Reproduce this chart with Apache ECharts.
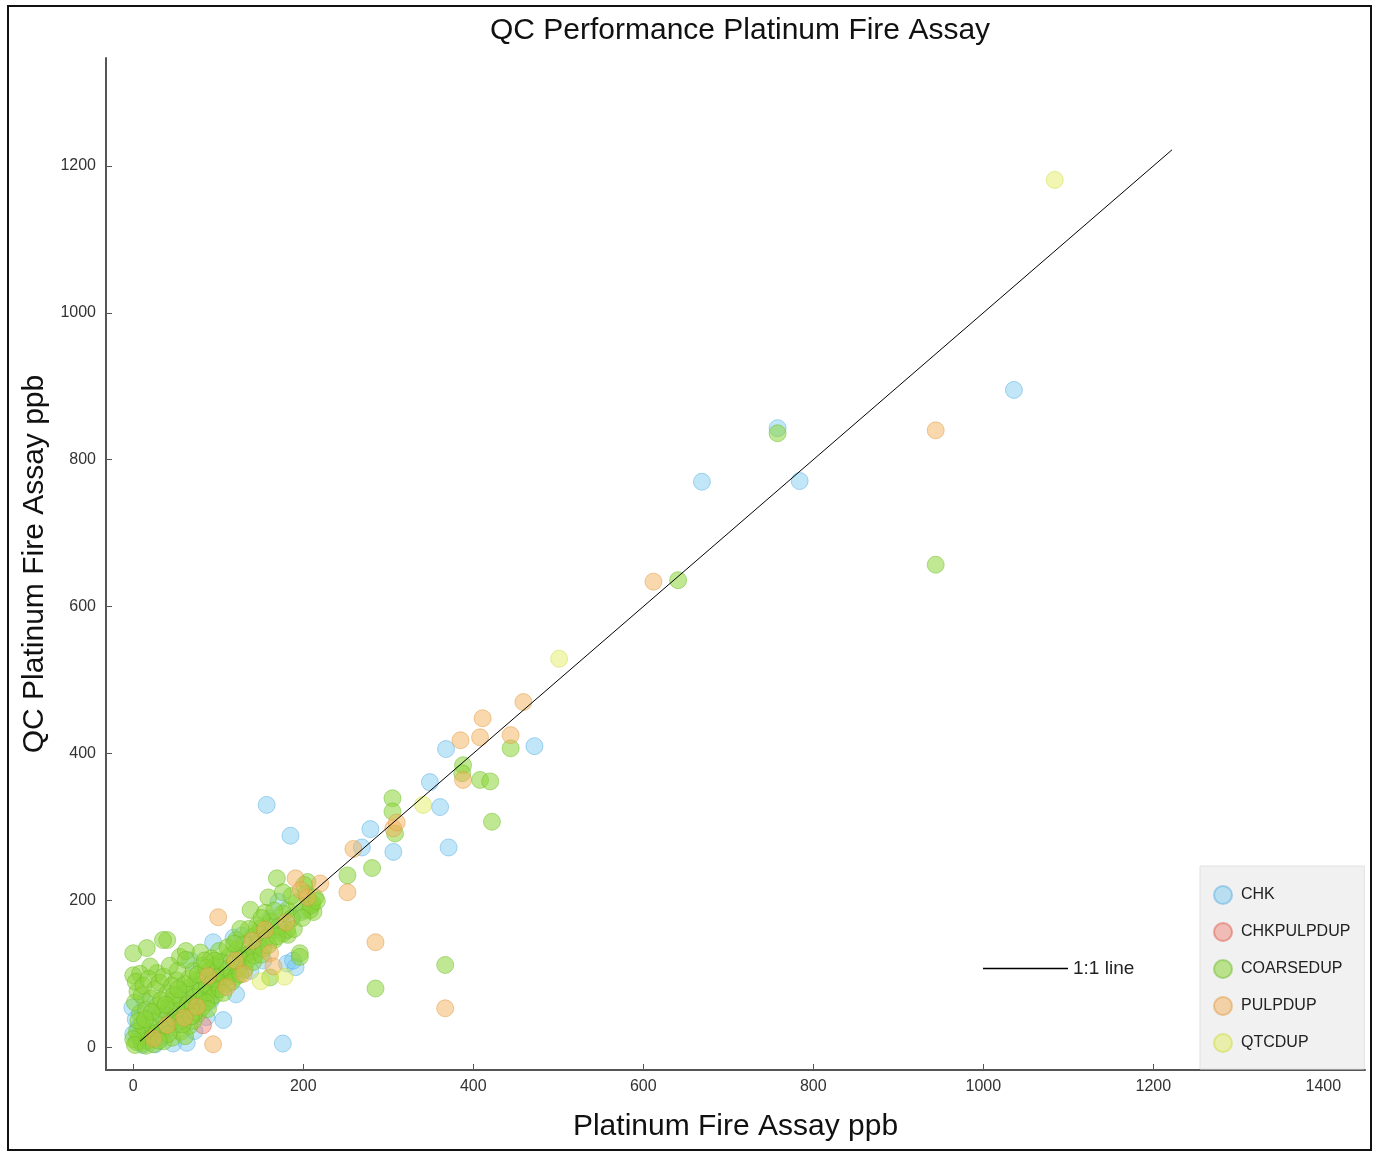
<!DOCTYPE html>
<html>
<head>
<meta charset="utf-8">
<script src="https://cdn.jsdelivr.net/npm/echarts@6/dist/echarts.min.js"></script>
<style>
html,body{margin:0;padding:0;background:#fff;}
#chart{width:1377px;height:1153px;}
</style>
</head>
<body>
<div id="chart"></div>
<script>
const seriesNames = ['CHK', 'CHKPULPDUP', 'COARSEDUP', 'PULPDUP', 'QTCDUP'];
const xTicks = [0, 200, 400, 600, 800, 1000, 1200, 1400];
const yTicks = [0, 200, 400, 600, 800, 1000, 1200];
const oneToOneLine = [[8, 8], [1222, 1222]];

const chkPoints = [
  [1036,895],[758,843],[669,770],[784,771],[472,410],[368,406],[349,361],[361,327],[371,272],
  [306,266],[279,297],[269,272],[157,330],[185,288],[176,5],[118,149],[94,143],[67,118],
  [171,198],[187,176],[153,118],[181,114],[191,109],[188,118],[106,37],[47,5],[63,6],[-1,54],
  [3,38],[18,22],[33,14],[72,22],[86,41],[121,72],[112,96],[141,131],[128,152],[76,84],
  [51,31],[14,62],[6,26],[26,4],[44,52],[91,63],[101,116],[162,176],[146,148],[202,187],
  [58,71],[36,44],[9,9],[138,104],[97,79],[23,41],[168,160],[124,127],[82,64],[41,27],[11,3],[0,18]
];
const chkPulpDupPoints = [
  [82,30],[45,40],[100,95],[20,15],[130,125],[66,60]
];
const coarseDupPoints = [
  [758,836],[944,657],[641,636],[444,407],[388,384],[387,373],[408,364],[420,362],[422,307],
  [305,339],[305,321],[308,291],[281,244],[252,234],[285,80],[367,112],[169,230],[205,225],
  [211,196],[212,184],[159,204],[138,187],[161,163],[182,153],[196,128],[155,183],[181,187],
  [208,187],[176,155],[146,155],[40,146],[79,129],[55,123],[196,123],[161,95],[0,98],[28,101],
  [0,128],[16,135],[35,146],[20,110],[8,100],[62,131],
  [4,7],[7,15],[11,5],[14,22],[17,9],[19,30],[23,14],[25,36],[27,19],[31,45],[34,24],[35,52],
  [39,29],[42,57],[44,33],[47,64],[49,38],[52,49],[55,66],[57,44],[60,75],[62,51],[64,58],
  [67,82],[70,57],[72,69],[74,90],[77,62],[80,77],[82,96],[84,71],[87,84],[90,104],[92,77],
  [95,92],[97,112],[100,86],[103,99],[105,117],[108,93],[111,107],[114,125],[116,101],[119,114],
  [122,133],[124,108],[127,121],[131,141],[134,118],[137,128],[140,150],[143,125],[146,139],
  [150,162],[153,134],[157,149],[162,171],[166,146],[171,164],[176,182],[181,160],[186,175],
  [192,197],[198,184],[203,209],[209,193],[214,204],
  [2,61],[5,76],[3,89],[10,71],[12,84],[18,93],[8,46],[15,51],[21,66],[26,79],[31,88],[36,96],
  [28,56],[40,73],[46,84],[51,91],[10,31],[4,21],[6,36],[0,11],[2,3],[15,2],[24,4],[36,8],
  [46,13],[56,21],[66,29],[41,18],[30,9],[61,15],[71,36],[76,46],[81,54],[56,36],[91,66],
  [96,71],[102,79],[86,61],[111,86],[121,96],[116,89],[61,86],[66,94],[71,104],[81,111],
  [92,121],[76,99],[101,131],[111,136],[96,118],[86,108],[52,104],[43,111],[62,119],[131,106],
  [126,99],[141,116],[151,126],[159,139],[146,166],[136,161],[121,146],[169,151],[189,161],
  [199,176],[216,199],[186,206],[176,211],[201,221],[166,186],[151,176],[126,161],[119,141],
  [33,64],[48,71],[22,48],[14,38],[58,31],[73,48],[88,52],[106,74],[68,42],[38,58],[53,79],[84,118]
];
const pulpDupPoints = [
  [944,840],[612,634],[459,470],[411,448],[385,418],[408,422],[444,425],[388,364],[306,298],
  [310,306],[259,270],[252,211],[285,143],[367,53],[100,177],[161,128],[191,230],[220,223],
  [205,204],[94,4],[165,110],[130,100],[110,82],[60,40],[40,30],[75,55],[140,145],[180,170],
  [197,214],[155,160],[120,118],[24,12],[88,97]
];
const qtcDupPoints = [
  [1084,1181],[501,529],[341,330],[150,90],[178,96]
];

const fills = ['rgba(120,200,240,0.58)', 'rgba(240,130,115,0.6)', 'rgba(138,212,56,0.68)', 'rgba(242,176,92,0.62)', 'rgba(222,236,80,0.55)'];
const borders = ['rgba(70,165,220,0.55)', 'rgba(220,85,70,0.6)', 'rgba(105,185,35,0.6)', 'rgba(222,150,60,0.6)', 'rgba(200,214,40,0.55)'];
const pointSets = [chkPoints, chkPulpDupPoints, coarseDupPoints, pulpDupPoints, qtcDupPoints];

const font = 'Liberation Sans, Arial, sans-serif';
const chart = echarts.init(document.getElementById('chart'), null, {renderer: 'canvas'});

const scatterSeries = seriesNames.map((name, i) => ({
  name: name,
  type: 'scatter',
  data: pointSets[i],
  symbol: 'circle',
  symbolSize: 17,
  itemStyle: {color: fills[i], borderColor: borders[i], borderWidth: 1},
  emphasis: {disabled: true},
  z: 2
}));

chart.setOption({
  animation: false,
  backgroundColor: '#fff',
  title: {
    text: 'QC Performance Platinum Fire Assay',
    left: 735, top: 11, textAlign: 'center',
    textStyle: {fontFamily: font, fontSize: 30, fontWeight: 'normal', color: '#111'}
  },
  grid: {left: 106, right: 12, top: 58, bottom: 83, containLabel: false},
  xAxis: {
    type: 'value', min: -32, max: 1449,
    name: 'Platinum Fire Assay ppb', nameLocation: 'middle', nameGap: 42,
    nameTextStyle: {fontFamily: font, fontSize: 30, color: '#111'},
    axisLine: {show: true, onZero: false, lineStyle: {color: '#555', width: 2}},
    axisTick: {show: true, inside: true, length: 6, customValues: xTicks, lineStyle: {color: '#555'}},
    axisLabel: {customValues: xTicks, formatter: v => String(v), fontFamily: font, fontSize: 16, color: '#333', margin: 9},
    splitLine: {show: false}
  },
  yAxis: {
    type: 'value', min: -31, max: 1347,
    name: 'QC Platinum Fire Assay ppb', nameLocation: 'middle', nameGap: 47, nameRotate: 90,
    nameTextStyle: {fontFamily: font, fontSize: 30, color: '#111'},
    axisLine: {show: true, onZero: false, lineStyle: {color: '#555', width: 2}},
    axisTick: {show: true, inside: true, length: 6, customValues: yTicks, lineStyle: {color: '#555'}},
    axisLabel: {customValues: yTicks, formatter: v => String(v), fontFamily: font, fontSize: 16, color: '#333', margin: 10},
    splitLine: {show: false}
  },
  legend: [
    {
      data: seriesNames,
      orient: 'vertical',
      left: 1200, top: 866,
      padding: [19, 14, 16, 13],
      itemGap: 17,
      itemWidth: 18, itemHeight: 18,
      icon: 'circle',
      backgroundColor: '#f1f1f1',
      borderColor: '#e2e2e2', borderWidth: 1,
      textStyle: {fontFamily: font, fontSize: 16, color: '#222', padding: [0, 0, 0, 4]},
      selectedMode: false
    },
    {
      data: [{name: '1:1 line', icon: 'rect', itemStyle: {color: '#000'}}],
      left: 978, top: 954,
      itemWidth: 85, itemHeight: 1.5,
      textStyle: {fontFamily: font, fontSize: 19, color: '#222'},
      selectedMode: false
    }
  ],
  series: scatterSeries.concat([{
    name: '1:1 line',
    type: 'line',
    data: oneToOneLine,
    symbol: 'none',
    lineStyle: {color: '#000', width: 1},
    itemStyle: {color: '#000'},
    emphasis: {disabled: true},
    z: 5
  }]),
  graphic: [{
    type: 'rect', silent: true,
    shape: {x: 8, y: 6, width: 1363, height: 1144},
    style: {fill: 'none', stroke: '#111', lineWidth: 2},
    z: 100
  }]
});
</script>
</body>
</html>
